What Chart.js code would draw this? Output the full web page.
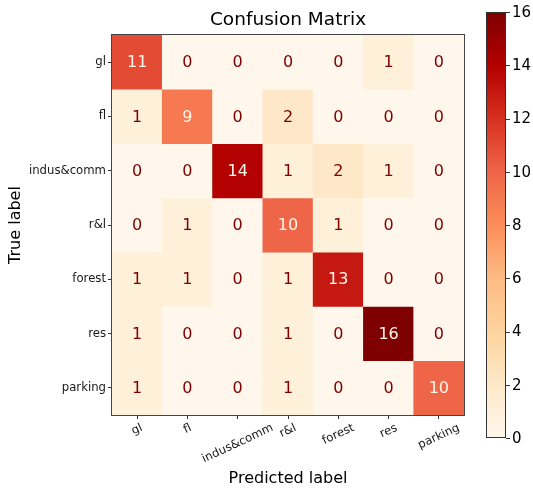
<!DOCTYPE html>
<html>
<head>
<meta charset="utf-8">
<script src="https://cdn.jsdelivr.net/npm/chart.js@4.4.0/dist/chart.umd.min.js"></script>
<style>
  html, body { margin: 0; padding: 0; background: #ffffff; }
  #wrap { width: 533px; height: 491px; }
</style>
</head>
<body>
<div id="wrap"><canvas id="c" width="533" height="491"></canvas></div>
<script>
// Class names (rows = true label, columns = predicted label)
const classLabels = ['gl', 'fl', 'indus&comm', 'r&l', 'forest', 'res', 'parking'];

// Confusion counts, one array per true class
const rowGl      = [11, 0, 0, 0, 0, 1, 0];
const rowFl      = [1, 9, 0, 2, 0, 0, 0];
const rowIndus   = [0, 0, 14, 1, 2, 1, 0];
const rowRl      = [0, 1, 0, 10, 1, 0, 0];
const rowForest  = [1, 1, 0, 1, 13, 0, 0];
const rowRes     = [1, 0, 0, 1, 0, 16, 0];
const rowParking = [1, 0, 0, 1, 0, 0, 10];

const colorbarTicks = [0, 2, 4, 6, 8, 10, 12, 14, 16];
const vMin = 0;
const vMax = 16;

const matrix = [rowGl, rowFl, rowIndus, rowRl, rowForest, rowRes, rowParking];

// OrRd colour ramp
const orRd = ['#fff7ec', '#fee8c8', '#fdd49e', '#fdbb84', '#fc8d59', '#ef6548', '#d7301f', '#b30000', '#7f0000'];
function hexToRgb(h) {
  return [parseInt(h.slice(1, 3), 16), parseInt(h.slice(3, 5), 16), parseInt(h.slice(5, 7), 16)];
}
function cmap(v) {
  let t = (v - vMin) / (vMax - vMin);
  t = Math.max(0, Math.min(1, t));
  const pos = t * (orRd.length - 1);
  const i = Math.min(Math.floor(pos), orRd.length - 2);
  const f = pos - i;
  const a = hexToRgb(orRd[i]), b = hexToRgb(orRd[i + 1]);
  const c = a.map((x, k) => Math.round(x + (b[k] - x) * f));
  return `rgb(${c[0]},${c[1]},${c[2]})`;
}

const FONT = "'DejaVu Sans', sans-serif";
const textDark = '#7f0000';
const textLight = '#fff7ec';
const threshold = (vMin + vMax) / 2;

// One floating-bar dataset per true-label row, spanning [row, row + 1]
const datasets = matrix.map((row, i) => ({
  label: classLabels[i],
  data: row.map(() => [i, i + 1]),
  counts: row,
  backgroundColor: row.map(v => cmap(v)),
  borderWidth: 0,
  barPercentage: 1,
  categoryPercentage: 1,
  grouped: false
}));

const matrixDecor = {
  id: 'matrixDecor',
  afterDatasetsDraw(chart) {
    const ctx = chart.ctx;
    const area = chart.chartArea;
    // cell annotations
    ctx.save();
    ctx.font = `16px ${FONT}`;
    ctx.textAlign = 'center';
    ctx.textBaseline = 'middle';
    chart.data.datasets.forEach((ds, i) => {
      const meta = chart.getDatasetMeta(i);
      meta.data.forEach((bar, j) => {
        const v = ds.counts[j];
        ctx.fillStyle = v > threshold ? textLight : textDark;
        ctx.fillText(String(v), bar.x, (bar.y + bar.base) / 2 + 1);
      });
    });
    // frame around the matrix
    ctx.strokeStyle = '#444';
    ctx.lineWidth = 1;
    ctx.strokeRect(Math.round(area.left) - 0.5, Math.round(area.top) - 0.5,
      Math.round(area.right - area.left) + 1, Math.round(area.bottom - area.top) + 1);
    ctx.restore();
  },
  afterDraw(chart) {
    const ctx = chart.ctx;
    const area = chart.chartArea;
    const xs = chart.scales.x;
    ctx.save();

    // title
    ctx.fillStyle = '#000';
    ctx.font = `18.5px ${FONT}`;
    ctx.textAlign = 'center';
    ctx.textBaseline = 'middle';
    ctx.fillText('Confusion Matrix', (area.left + area.right) / 2, 20);

    // rotated predicted-label ticks, centred under each column
    const theta = 25 * Math.PI / 180;
    ctx.font = `11.7px ${FONT}`;
    ctx.fillStyle = '#1a1a1a';
    const h = 11.7;
    const topY = area.bottom + 7;
    classLabels.forEach((lab, j) => {
      const x = xs.getPixelForValue(j);
      const L = ctx.measureText(lab).width;
      const H = L * Math.sin(theta) + h * Math.cos(theta);
      ctx.save();
      ctx.translate(x, topY + H / 2);
      ctx.rotate(-theta);
      ctx.fillText(lab, 0, 0);
      ctx.restore();
    });

    // colour bar
    const cbLeft = 486, cbRight = 506, cbTop = 12, cbBottom = 438;
    const grad = ctx.createLinearGradient(0, cbBottom, 0, cbTop);
    orRd.forEach((c, k) => grad.addColorStop(k / (orRd.length - 1), c));
    ctx.fillStyle = grad;
    ctx.fillRect(cbLeft, cbTop, cbRight - cbLeft, cbBottom - cbTop);
    ctx.strokeStyle = '#333';
    ctx.lineWidth = 1;
    ctx.strokeRect(cbLeft + 0.5, cbTop + 0.5, cbRight - cbLeft - 1, cbBottom - cbTop - 1);
    ctx.font = `15px ${FONT}`;
    ctx.textAlign = 'left';
    ctx.fillStyle = '#000';
    colorbarTicks.forEach(t => {
      const y = cbBottom - (t - vMin) / (vMax - vMin) * (cbBottom - cbTop);
      const yy = Math.round(y) + 0.5;
      ctx.beginPath();
      ctx.moveTo(cbRight, yy);
      ctx.lineTo(cbRight + 4, yy);
      ctx.stroke();
      ctx.fillText(String(t), cbRight + 6, y + 1);
    });
    ctx.restore();
  }
};

new Chart(document.getElementById('c'), {
  type: 'bar',
  data: { labels: classLabels, datasets },
  options: {
    responsive: false,
    animation: false,
    layout: { padding: { left: 0, top: 35, right: 69, bottom: 0 } },
    plugins: { legend: { display: false }, tooltip: { enabled: false }, title: { display: false } },
    scales: {
      x: {
        type: 'category',
        offset: true,
        grid: { offset: false, drawOnChartArea: false, drawTicks: true, tickLength: 4, color: '#333' },
        border: { display: false },
        ticks: { display: false },
        title: {
          display: true, text: 'Predicted label', color: '#000',
          font: { family: FONT, size: 16 }, padding: { top: 0, bottom: 3 }
        },
        afterFit(s) { s.height = 76; }
      },
      y: {
        type: 'linear',
        min: 0,
        max: 7,
        reverse: true,
        afterBuildTicks(s) { s.ticks = classLabels.map((_, i) => ({ value: i + 0.5 })); },
        grid: { drawOnChartArea: false, drawTicks: true, tickLength: 4, color: '#333' },
        border: { display: false },
        ticks: {
          color: '#1a1a1a',
          font: { family: FONT, size: 11.7 },
          padding: 2,
          callback: (v, idx) => classLabels[idx]
        },
        title: {
          display: true, text: 'True label', color: '#000',
          font: { family: FONT, size: 16 }, padding: { top: 6, bottom: 0 }
        },
        afterFit(s) { s.width = 112; }
      }
    }
  },
  plugins: [matrixDecor]
});
</script>
</body>
</html>
